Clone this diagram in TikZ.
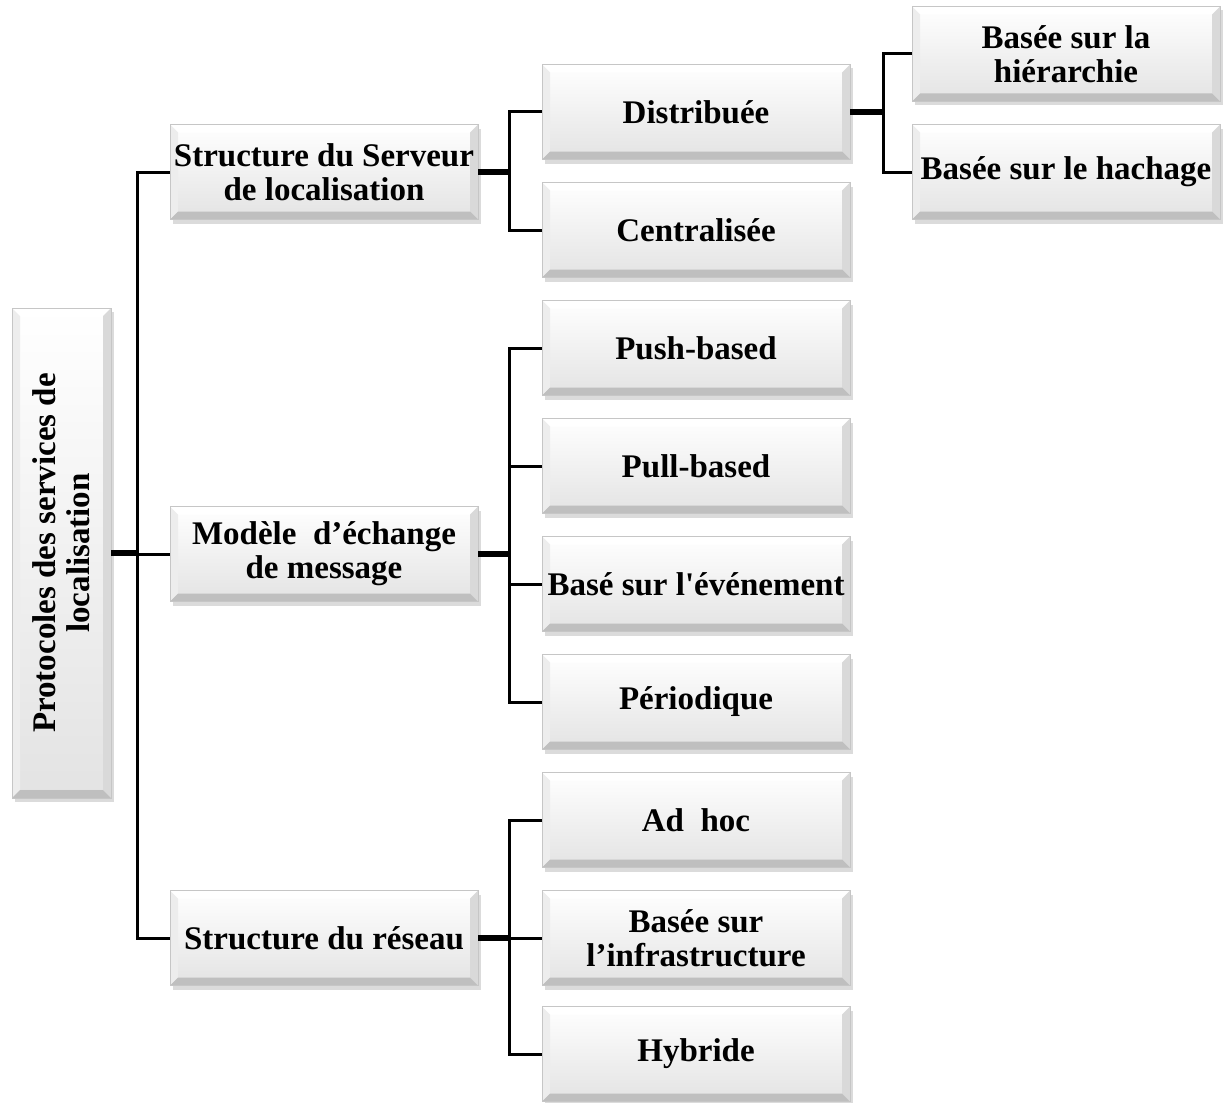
\documentclass[tikz,border=0pt]{standalone}
\usepackage{fontspec}
\setmainfont{Liberation Serif}[Ligatures=TeXOff]
\usetikzlibrary{shadows}
\tikzset{
	bevelbox/.style={rectangle, draw=gray!45, line width=0.4pt, minimum width=154pt, minimum height=47.5pt, inner sep=1pt, align=center,
		font=\fontsize{16.5}{17}\selectfont\bfseries, top color=white, bottom color=gray!22,
		drop shadow={shadow xshift=1.5pt, shadow yshift=-2pt, opacity=0.4, fill=gray!70},
		path picture={
			\coordinate (nw) at (path picture bounding box.north west);
			\coordinate (ne) at (path picture bounding box.north east);
			\coordinate (sw) at (path picture bounding box.south west);
			\coordinate (se) at (path picture bounding box.south east);
			\fill[white] (nw) -- (ne) -- ([shift={(-4pt,-4pt)}]ne) -- ([shift={(4pt,-4pt)}]nw) -- cycle;
			\fill[gray!14] (nw) -- (sw) -- ([shift={(4pt,4pt)}]sw) -- ([shift={(4pt,-4pt)}]nw) -- cycle;
			\fill[gray!30] (ne) -- (se) -- ([shift={(-4pt,4pt)}]se) -- ([shift={(-4pt,-4pt)}]ne) -- cycle;
			\fill[gray!50] (sw) -- (se) -- ([shift={(-4pt,4pt)}]se) -- ([shift={(4pt,4pt)}]sw) -- cycle;
		}},
	bus/.style={line width=1.5pt},
	stub/.style={line width=2.6pt}
}
\begin{document}
\begin{tikzpicture}[x=0.5pt,y=-0.5pt]
	\useasboundingbox (0,0) rectangle (1230,1102);
	\node[bevelbox, minimum width=49.5pt, minimum height=245pt] (root) at (61.5,553) {};
	\node[rotate=90, align=center, font=\fontsize{16.5}{17}\selectfont\bfseries] (roottxt) at (root.center) {Protocoles des services de\\localisation};
	\node[bevelbox] (srv) at (324,172) {Structure du Serveur\\de localisation};
	\node[bevelbox] (msg) at (324,554) {Modèle\ \ d’échange\\de message};
	\node[bevelbox] (net) at (324,938) {Structure du réseau};
	\node[bevelbox] (dist) at (696,112) {Distribuée};
	\node[bevelbox] (cent) at (696,230) {Centralisée};
	\node[bevelbox] (push) at (696,348) {Push-based};
	\node[bevelbox] (pull) at (696,466) {Pull-based};
	\node[bevelbox] (event) at (696,584) {Basé sur l'événement};
	\node[bevelbox] (peri) at (696,702) {Périodique};
	\node[bevelbox] (adhoc) at (696,820) {Ad\ \ hoc};
	\node[bevelbox] (infra) at (696,938) {Basée sur\\l’infrastructure};
	\node[bevelbox] (hyb) at (696,1054) {Hybride};
	\node[bevelbox] (hier) at (1066,54) {Basée sur la\\hiérarchie};
	\node[bevelbox] (hash) at (1066,172) {Basée sur le hachage};
	\coordinate (trunk) at (137,553);
	\draw[stub] (root.east) -- (trunk);
	\foreach \n in {srv,msg,net} \draw[bus] (trunk) |- (\n.west);
	\draw[stub] (srv.east) -- ++(31,0) coordinate (srvbus);
	\foreach \n in {dist,cent} \draw[bus] (srvbus) |- (\n.west);
	\draw[stub] (msg.east) -- ++(31,0) coordinate (msgbus);
	\foreach \n in {push,pull,event,peri} \draw[bus] (msgbus) |- (\n.west);
	\draw[stub] (net.east) -- ++(31,0) coordinate (netbus);
	\foreach \n in {adhoc,infra,hyb} \draw[bus] (netbus) |- (\n.west);
	\draw[stub] (dist.east) -- ++(33,0) coordinate (distbus);
	\foreach \n in {hier,hash} \draw[bus] (distbus) |- (\n.west);
\end{tikzpicture}
\end{document}
